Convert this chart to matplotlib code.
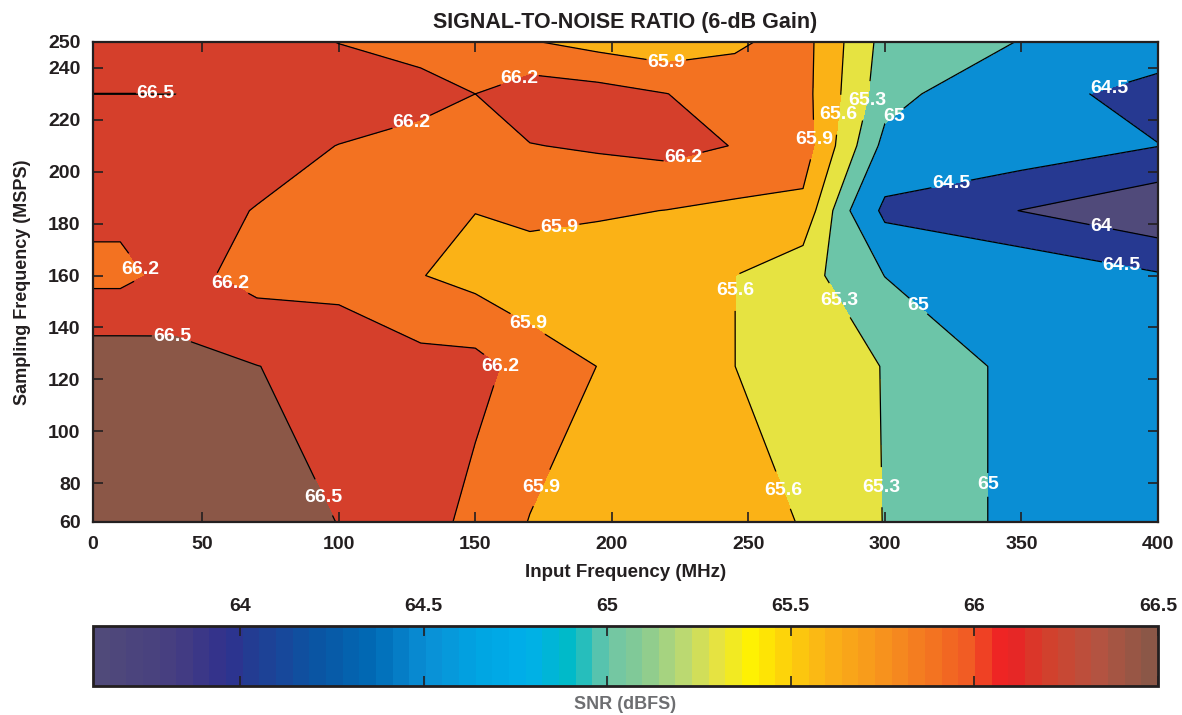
import numpy as np
import matplotlib
matplotlib.use('Agg')
import matplotlib.pyplot as plt
from matplotlib.colors import LinearSegmentedColormap, Normalize
from matplotlib.cm import ScalarMappable

plt.rcParams['font.family'] = ['Liberation Sans', 'DejaVu Sans']
plt.rcParams['font.weight'] = 'bold'
plt.rcParams['font.size'] = 12

# measurement grid (MHz / MSPS)
input_freq = [10, 20, 40, 70, 100, 130, 150, 170, 195, 220, 245, 270, 300, 350, 400]
sample_freq = [65, 125, 160, 185, 210, 230, 250]

# SNR (dBFS), one list per sampling frequency
snr_65 = [66.90, 66.90, 66.85, 66.75, 66.49, 66.35, 66.096, 65.89, 65.82, 65.75, 65.68, 65.59, 65.29, 64.905, 64.80]
snr_125 = [66.694, 66.694, 66.60, 66.505, 66.40, 66.30, 66.30, 66.078, 65.895, 65.75, 65.601, 65.45, 65.29, 64.905, 64.80]
snr_160 = [66.117, 66.117, 66.30, 66.10, 66.105, 65.91, 65.80, 65.689, 65.70, 65.70, 65.601, 65.41, 64.995, 64.895, 64.55]
snr_185 = [66.277, 66.277, 66.30, 66.19, 66.12, 66.05, 65.905, 66.00, 65.94, 65.895, 65.836, 65.82, 64.39, 63.99, 63.60]
snr_210 = [66.35, 66.35, 66.35, 66.30, 66.195, 66.10, 66.10, 66.19, 66.235, 66.295, 66.19, 66.055, 64.905, 64.81, 64.51]
snr_230 = [66.501, 66.501, 66.501, 66.40, 66.35, 66.30, 66.20, 66.365, 66.315, 66.205, 66.05, 66.006, 65.126, 64.659, 64.341]
snr_250 = [66.40, 66.40, 66.40, 66.30, 66.195, 66.10, 66.05, 65.92, 65.80, 65.70, 65.857, 66.01, 65.19, 64.99, 64.74]

levels = [64, 64.5, 65, 65.3, 65.6, 65.9, 66.2, 66.5]
snr_min, snr_max = 63.6, 66.5

# colormap anchors
cmap_vals = [63.60, 63.80, 63.95, 64.00, 64.20, 64.35, 64.50, 64.65, 64.78, 64.90, 65.00, 65.10,
             65.20, 65.30, 65.40, 65.50, 65.60, 65.75, 65.90, 66.00, 66.10, 66.20, 66.35, 66.50]
cmap_hex = ['#504a7a', '#463e80', '#30308e', '#253a91', '#0a55a3', '#006ab5', '#0a8fd5', '#00a5e3',
            '#00afea', '#00bbc6', '#6cc5a8', '#88cb92', '#b6d877', '#e5e343', '#fff200', '#fdd00b',
            '#fbb316', '#f7951d', '#f37321', '#f15a24', '#ed1c24', '#d63e2a', '#b65340', '#8b5747']

# x tick positions / labels (axis starts at 10 MHz but is labelled 0)
x_ticks = [10, 50, 100, 150, 200, 250, 300, 350, 400]
x_ticklabels = ['0', '50', '100', '150', '200', '250', '300', '350', '400']
y_ticks = [65, 80, 100, 120, 140, 160, 180, 200, 220, 240, 250]
y_ticklabels = ['60', '80', '100', '120', '140', '160', '180', '200', '220', '240', '250']
cb_ticks = [64, 64.5, 65, 65.5, 66, 66.5]

# where the contour labels sit
label_pos = [(33, 230.5), (166, 236.5), (220, 242.5), (126.5, 219.5), (226, 206),
             (296.3, 226.6), (286.4, 221.6), (303.3, 221.6), (277.6, 212.4),
             (382.5, 230.9), (324.2, 195.4), (379.5, 180.4), (386.9, 164.9),
             (180.8, 179.2), (29.3, 163.8), (62, 159.9), (38.9, 137.5),
             (248.3, 154.1), (286.8, 152.6), (313.9, 150.3), (170.9, 144.5),
             (161, 124.4), (97.9, 76.2), (177.5, 76.6), (267.7, 79.3),
             (303.6, 78.5), (339.6, 79.3)]

txt = '#231f20'

fracs = [(v - snr_min) / (snr_max - snr_min) for v in cmap_vals]
cmap_smooth = LinearSegmentedColormap.from_list('snr', list(zip(fracs, cmap_hex)), N=512)
cmap_bar = LinearSegmentedColormap.from_list('snr64', list(zip(fracs, cmap_hex)), N=64)
norm = Normalize(snr_min, snr_max)

X, Y = np.meshgrid(input_freq, sample_freq)
Z = np.array([snr_65, snr_125, snr_160, snr_185, snr_210, snr_230, snr_250])

band_lows = [snr_min] + levels
fill_colors = [cmap_smooth(norm(v)) for v in band_lows]
fill_levels = [Z.min() - 1] + levels + [Z.max() + 1]

fig = plt.figure(figsize=(11.82, 7.15), dpi=100)
ax = fig.add_axes([93 / 1182, 1 - 522 / 715, 1065 / 1182, 480 / 715])

ax.contourf(X, Y, Z, levels=fill_levels, colors=fill_colors)
cs = ax.contour(X, Y, Z, levels=levels, colors='k', linewidths=0.9)
ax.set_xlim(10, 400)
ax.set_ylim(65, 250)

lbls = ax.clabel(cs, levels, manual=label_pos, inline=True, inline_spacing=1,
                 fmt=lambda v: f'{v:g}', colors='white', fontsize=14)
for t in lbls:
    t.set_fontweight('bold')
    t.set_rotation(0)

ax.set_xticks(x_ticks)
ax.set_xticklabels(x_ticklabels)
ax.set_yticks(y_ticks)
ax.set_yticklabels(y_ticklabels)
ax.tick_params(direction='in', length=7, width=1.2, top=True, right=True,
               labelsize=14, colors=txt)
ax.tick_params(axis='x', pad=10)
ax.tick_params(axis='y', pad=9)
for s in ax.spines.values():
    s.set_linewidth(1.6)
    s.set_color(txt)

ax.set_title('SIGNAL-TO-NOISE RATIO (6-dB Gain)', fontsize=15.5, fontweight='bold', color=txt, pad=10)
ax.set_xlabel('Input Frequency (MHz)', fontsize=13.5, fontweight='bold', color=txt, labelpad=8)
ax.set_ylabel('Sampling Frequency (MSPS)', fontsize=13, fontweight='bold', color=txt, labelpad=12)

cax = fig.add_axes([93 / 1182, 1 - 686 / 715, 1065 / 1182, 60 / 715])
cb = fig.colorbar(ScalarMappable(norm=norm, cmap=cmap_bar), cax=cax, orientation='horizontal')
cb.set_ticks(cb_ticks)
cb.set_ticklabels(['64', '64.5', '65', '65.5', '66', '66.5'])
cb.minorticks_off()
cax.tick_params(axis='x', direction='in', length=7, width=1.2, top=True, bottom=True,
                labeltop=True, labelbottom=False, labelsize=14, colors=txt, pad=8)
cb.outline.set_linewidth(2)
cb.outline.set_edgecolor(txt)
cax.xaxis.set_label_position('bottom')
cax.set_xlabel('SNR (dBFS)', fontsize=13, fontweight='bold', color='#6d6e71', labelpad=7)

fig.savefig('out.png', dpi=100)
